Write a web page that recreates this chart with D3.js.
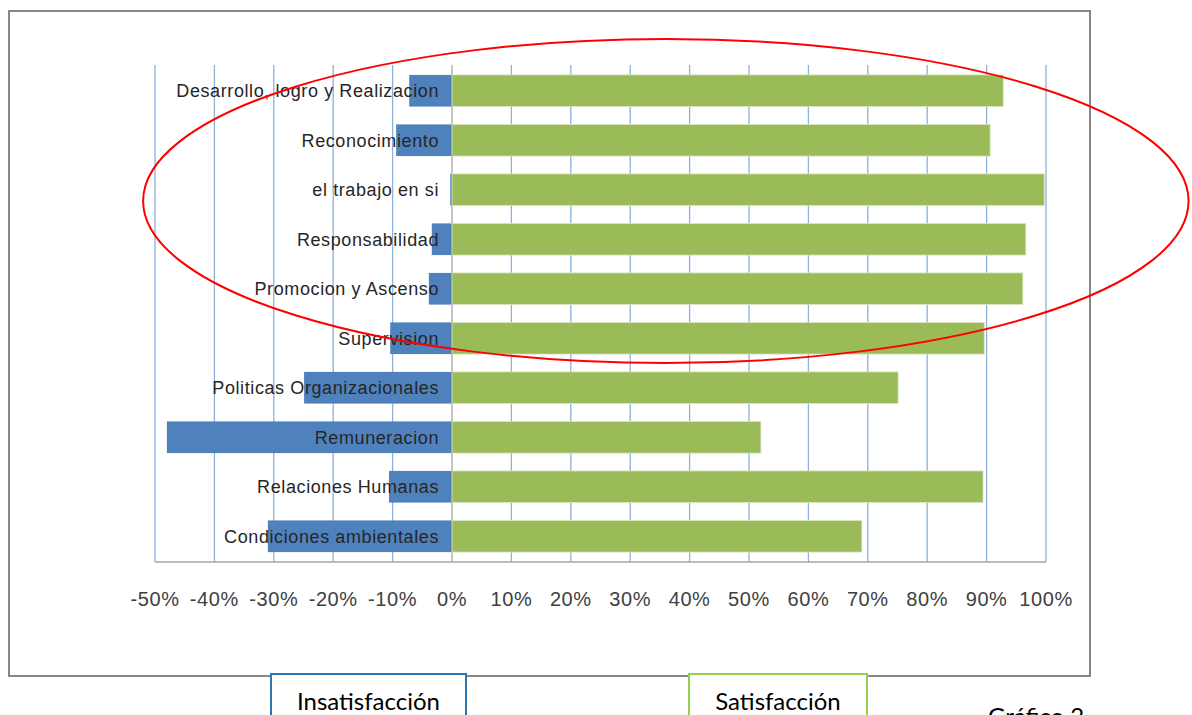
<!DOCTYPE html>
<html>
<head>
<meta charset="utf-8">
<script src="https://cdn.jsdelivr.net/npm/d3@7"></script>
<style>
  body { margin: 0; background: #fff; }
  svg { display: block; }
</style>
</head>
<body>
<div id="chart"></div>
<script>
// categories top to bottom
const categories = [
  "Desarrollo, logro y Realizacion",
  "Reconocimiento",
  "el trabajo en si",
  "Responsabilidad",
  "Promocion y Ascenso",
  "Supervision",
  "Politicas Organizacionales",
  "Remuneracion",
  "Relaciones Humanas",
  "Condiciones ambientales"
];
const insatisfaccion = [-0.072, -0.094, -0.003, -0.034, -0.039, -0.104, -0.249, -0.48, -0.106, -0.31];
const satisfaccion   = [0.928, 0.906, 0.997, 0.966, 0.961, 0.896, 0.751, 0.52, 0.894, 0.69];
const tickValues = [-0.5, -0.4, -0.3, -0.2, -0.1, 0, 0.1, 0.2, 0.3, 0.4, 0.5, 0.6, 0.7, 0.8, 0.9, 1.0];
const legendLabels = ["Insatisfacción", "Satisfacción"];
const caption = "Gráfico 2";

const W = 1192, H = 715;
const svg = d3.select("#chart").append("svg")
    .attr("width", W).attr("height", H);

// outer chart frame
svg.append("rect").attr("x", 9).attr("y", 11).attr("width", 1081).attr("height", 665)
    .attr("fill", "none").attr("stroke", "#878787").attr("stroke-width", 2);

const x = d3.scaleLinear().domain([-0.5, 1]).range([155, 1046]);
const y = d3.scaleBand().domain(categories).range([65, 562])
    .paddingInner(0.36).paddingOuter(0.2);

// vertical gridlines
svg.append("g").selectAll("line.grid")
    .data(tickValues).join("line").attr("class", "grid")
    .attr("x1", d => x(d)).attr("x2", d => x(d))
    .attr("y1", 65).attr("y2", 562)
    .attr("stroke", d => d === 0 ? "#a6a6a6" : "#8eb1dc")
    .attr("stroke-width", 1.3);

// bottom axis line
svg.append("line").attr("x1", x(-0.5)).attr("x2", x(1))
    .attr("y1", 562).attr("y2", 562)
    .attr("stroke", "#a6a6a6").attr("stroke-width", 1.3);

// bars
svg.append("g").selectAll("rect.neg")
    .data(categories).join("rect").attr("class", "neg")
    .attr("x", (d, i) => x(insatisfaccion[i]))
    .attr("width", (d, i) => x(0) - x(insatisfaccion[i]))
    .attr("y", d => y(d)).attr("height", y.bandwidth())
    .attr("fill", "#4f81bd");

svg.append("g").selectAll("rect.pos")
    .data(categories).join("rect").attr("class", "pos")
    .attr("x", x(0))
    .attr("width", (d, i) => x(satisfaccion[i]) - x(0))
    .attr("y", d => y(d)).attr("height", y.bandwidth())
    .attr("fill", "#9bbb59")
    .attr("stroke", "#dbe6c6").attr("stroke-width", 0.8);

// category labels, drawn next to the zero axis over the bars
svg.append("g").selectAll("text.cat")
    .data(categories).join("text").attr("class", "cat")
    .attr("x", x(0) - 13)
    .attr("y", d => y(d) + y.bandwidth() / 2)
    .attr("dy", "0.35em")
    .attr("text-anchor", "end")
    .style("font-family", "'Liberation Sans', Arial, sans-serif")
    .style("font-size", "18px")
    .style("letter-spacing", "0.6px")
    .style("fill", "#262626")
    .text(d => d);

// tick labels
svg.append("g").selectAll("text.tick")
    .data(tickValues).join("text").attr("class", "tick")
    .attr("x", d => x(d))
    .attr("y", 599)
    .attr("dy", "0.35em")
    .attr("text-anchor", "middle")
    .style("font-family", "'Liberation Sans', Arial, sans-serif")
    .style("font-size", "20px")
    .style("letter-spacing", "0.6px")
    .style("fill", "#404040")
    .text(d => Math.round(d * 100) + "%");

// red ellipse annotation
svg.append("ellipse")
    .attr("cx", x(0.36)).attr("cy", 201)
    .attr("rx", x(1.24) - x(0.36)).attr("ry", 162)
    .attr("fill", "none").attr("stroke", "#ff0000").attr("stroke-width", 2);

// legend boxes below the frame
const legendBoxes = [
  { x: 271, w: 195, stroke: "#2e75b6" },
  { x: 689, w: 178, stroke: "#92d050" }
];
legendLabels.forEach((lab, i) => {
  const b = legendBoxes[i];
  svg.append("rect").attr("x", b.x).attr("y", 674).attr("width", b.w).attr("height", 60)
      .attr("fill", "#fff").attr("stroke", b.stroke).attr("stroke-width", 2);
  svg.append("text").attr("x", b.x + b.w / 2).attr("y", 710)
      .attr("text-anchor", "middle")
      .style("font-family", "Lato, 'Open Sans', sans-serif")
      .style("font-size", "24px").style("fill", "#000")
      .text(lab);
});

svg.append("text").attr("x", 988).attr("y", 725)
    .style("font-family", "Lato, 'Open Sans', sans-serif")
    .style("font-size", "24px").style("fill", "#000")
    .text(caption);
</script>
</body>
</html>
